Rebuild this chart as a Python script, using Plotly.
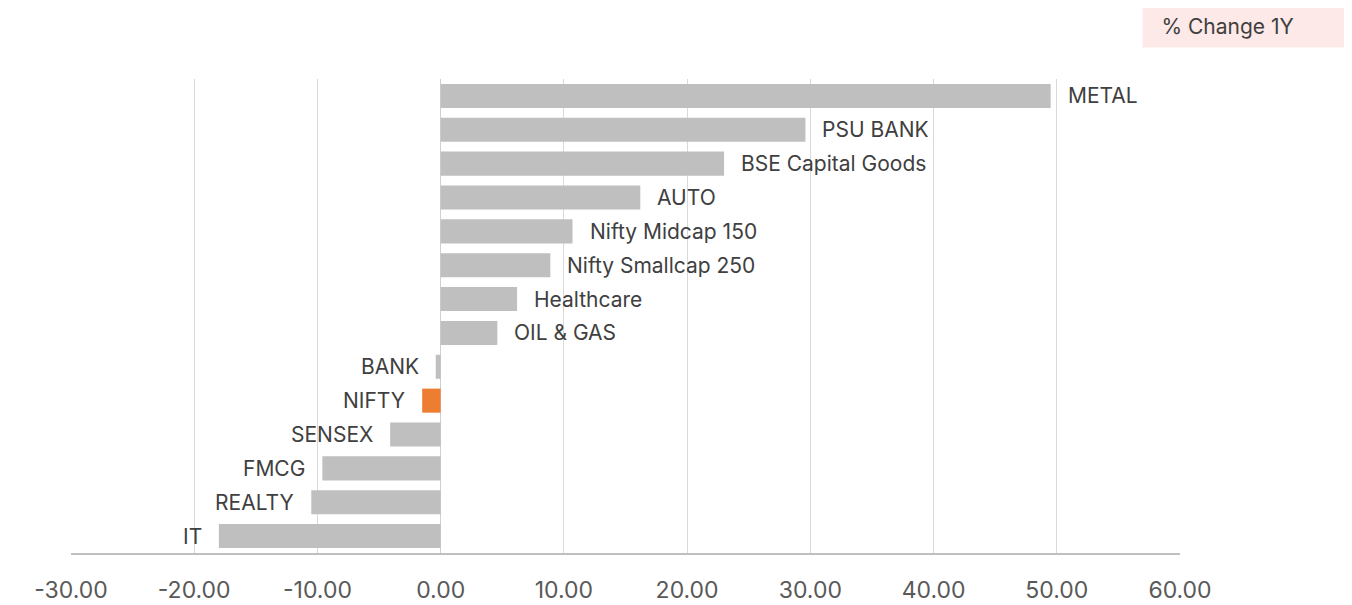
import plotly.graph_objects as go

# --------- DATA ---------
categories = ["METAL", "PSU BANK", "BSE Capital Goods", "AUTO", "Nifty Midcap 150",
              "Nifty Smallcap 250", "Healthcare", "OIL & GAS", "BANK", "NIFTY",
              "SENSEX", "FMCG", "REALTY", "IT"]
change_1y = [49.5, 29.6, 23.0, 16.2, 10.7, 8.9, 6.2, 4.6, -0.4, -1.5, -4.1, -9.6, -10.5, -18.0]
x_ticks = [-30, -20, -10, 0, 10, 20, 30, 40, 50, 60]
# ------------------------

GREY = "#BFBFBF"
ORANGE = "#ED7D31"
FONT = "Inter"

colors = [ORANGE if c == "NIFTY" else GREY for c in categories]

fig = go.Figure()
fig.add_trace(go.Bar(
    y=categories, x=change_1y, orientation="h",
    marker=dict(color=colors, line=dict(width=0)),
    hovertemplate="%{y}: %{x:.2f}<extra></extra>",
))

# labels beside each bar end
for cat, val in zip(categories, change_1y):
    fig.add_annotation(
        x=val, y=cat, xref="x", yref="y", text=cat, showarrow=False,
        xanchor="left" if val >= 0 else "right",
        xshift=15 if val >= 0 else -15,
        font=dict(family=FONT, size=21, color="#404040"),
    )

# legend-like box, top right
fig.add_annotation(
    x=1.0, y=1.0, xref="paper", yref="paper", xanchor="right", yanchor="bottom",
    xshift=170, yshift=31,
    text="\u2002% Change 1Y", showarrow=False, align="left",
    bgcolor="#FDE9E7", borderpad=8,
    font=dict(family=FONT, size=21, color="#404040"),
    width=190,
)

fig.update_xaxes(
    range=[-30, 60], tickvals=x_ticks,
    ticktext=[f"{v:.2f}" for v in x_ticks],
    showgrid=True, gridcolor="#D9D9D9", gridwidth=1,
    zeroline=True, zerolinecolor="#D0D0D0", zerolinewidth=1,
    showline=True, linecolor="#BFBFBF", linewidth=1.5,
    ticks="", ticklabelstandoff=16, automargin=False,
    tickfont=dict(family=FONT, size=23, color="#595959"),
)
fig.update_yaxes(
    autorange="reversed", showticklabels=False, showgrid=False, ticks="",
    automargin=False,
)
fig.update_layout(
    width=1352, height=605,
    margin=dict(l=63, r=180, t=71, b=60),
    bargap=0.29, showlegend=False,
    plot_bgcolor="white", paper_bgcolor="white",
    font=dict(family=FONT),
)

fig.write_html("out.html")
